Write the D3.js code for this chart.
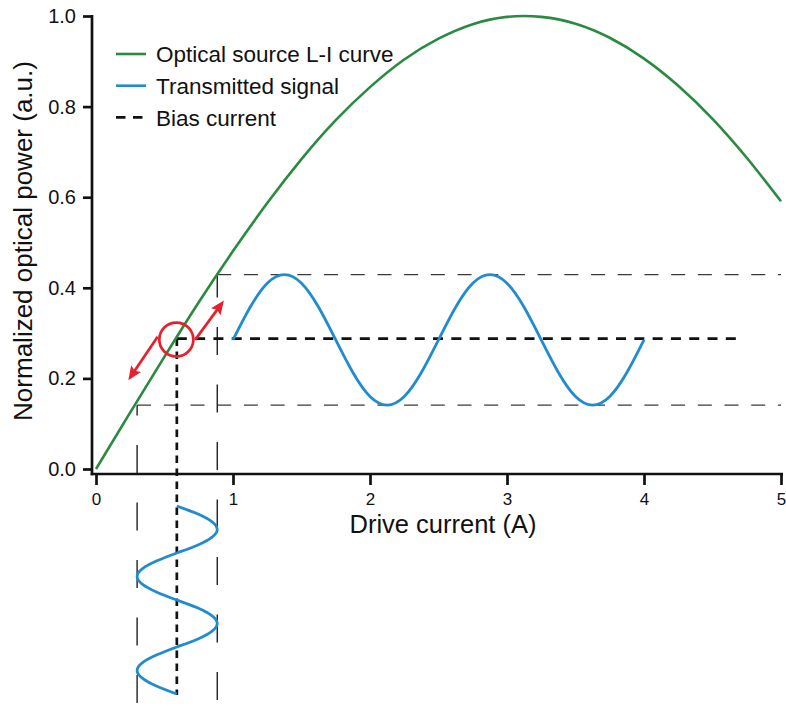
<!DOCTYPE html>
<html>
<head>
<meta charset="utf-8">
<script src="https://cdn.jsdelivr.net/npm/d3@7"></script>
<style>
  html, body { margin: 0; padding: 0; background: #fff; }
  svg { display: block; }
  text { font-family: "Liberation Sans", Arial, Helvetica, sans-serif; fill: #111; }
</style>
</head>
<body>
<svg id="chart" width="786" height="707"></svg>
<script>
// ---- data -------------------------------------------------------------
// Optical source L-I curve: drive current (A) vs normalized optical power
const liCurrent = [0, 0.25, 0.5, 0.75, 1.0, 1.25, 1.5, 1.75, 2.0, 2.25, 2.5,
                   2.75, 3.0, 3.25, 3.5, 3.75, 4.0, 4.25, 4.5, 4.75, 5.0];
const liPower   = [0, 0.125, 0.248, 0.368, 0.481, 0.587, 0.684, 0.770, 0.843, 0.904, 0.950,
                   0.982, 0.998, 0.998, 0.983, 0.952, 0.906, 0.846, 0.773, 0.687, 0.591];

// Transmitted signal, sampled on a time axis drawn along the current axis
const signalTime = [1.000, 1.125, 1.250, 1.375, 1.500, 1.625, 1.750, 1.875, 2.000,
                    2.125, 2.250, 2.375, 2.500, 2.625, 2.750, 2.875, 3.000, 3.125,
                    3.250, 3.375, 3.500, 3.625, 3.750, 3.875, 4.000];
// optical output (right-hand trace)
const signalPower = [0.285, 0.357, 0.410, 0.429, 0.410, 0.357, 0.285, 0.213, 0.160,
                     0.141, 0.160, 0.213, 0.285, 0.357, 0.410, 0.429, 0.410, 0.357,
                     0.285, 0.213, 0.160, 0.141, 0.160, 0.213, 0.285];
// drive current modulation (trace below the current axis)
const signalCurrent = [0.59, 0.74, 0.845, 0.885, 0.845, 0.74, 0.59, 0.445, 0.34,
                       0.30, 0.34, 0.445, 0.59, 0.74, 0.845, 0.885, 0.845, 0.74,
                       0.59, 0.445, 0.34, 0.30, 0.34, 0.445, 0.59];

// Operating point and swing limits
const biasCurrent = 0.59;
const biasPower = 0.288;
const biasLineEnd = 4.71;
const swingCurrent = [0.30, 0.885];   // low, high
const swingPower = [0.141, 0.429];    // low, high
const guideLineEnd = 5;

// Arrows along the slope at the operating point: [from, to] in (A, a.u.)
const arrowFrom = [[0.450, 0.292], [0.723, 0.285]];
const arrowTo   = [[0.236, 0.196], [0.934, 0.372]];

// Axes
const xTicks = [0, 1, 2, 3, 4, 5];
const yTicks = [0, 0.2, 0.4, 0.6, 0.8, 1.0];
const xTitle = "Drive current (A)";
const yTitle = "Normalized optical power (a.u.)";
const legendLabels = ["Optical source L-I curve", "Transmitted signal", "Bias current"];

// ---- layout -----------------------------------------------------------
const GREEN = "#2a8a3f";
const BLUE  = "#218bd0";
const RED   = "#e8202e";
const AXIS_W = 2.7;

const svg = d3.select("#chart");
const x = d3.scaleLinear().domain([0, 5]).range([96, 781]);
const y = d3.scaleLinear().domain([0, 1]).range([469, 16]);
const yAxisX = 92;
const xAxisY = 474;
// time scale for the current-modulation trace drawn under the axis
const tScale = d3.scaleLinear().domain([1, 4]).range([506, 694]);
const guideBottom = 703;

// ---- guide lines ------------------------------------------------------
const guides = svg.append("g").attr("fill", "none");

// horizontal swing limits
guides.append("line")
  .attr("x1", x(swingCurrent[1])).attr("x2", x(guideLineEnd))
  .attr("y1", y(swingPower[1])).attr("y2", y(swingPower[1]))
  .attr("stroke", "#3a3a3a").attr("stroke-width", 1.3).attr("stroke-dasharray", "14,12.7");
guides.append("line")
  .attr("x1", x(swingCurrent[0])).attr("x2", x(guideLineEnd))
  .attr("y1", y(swingPower[0])).attr("y2", y(swingPower[0]))
  .attr("stroke", "#3a3a3a").attr("stroke-width", 1.3).attr("stroke-dasharray", "14,12.7");

// vertical swing limits, extended below the axis
guides.append("line")
  .attr("x1", x(swingCurrent[0])).attr("x2", x(swingCurrent[0]))
  .attr("y1", guideBottom).attr("y2", y(swingPower[0]))
  .attr("stroke", "#111").attr("stroke-width", 1.3).attr("stroke-dasharray", "28,29.5");
guides.append("line")
  .attr("x1", x(swingCurrent[1])).attr("x2", x(swingCurrent[1]))
  .attr("y1", guideBottom - 3).attr("y2", y(swingPower[1]))
  .attr("stroke", "#111").attr("stroke-width", 1.3).attr("stroke-dasharray", "28,29.5");

// bias current
guides.append("line")
  .attr("x1", x(biasCurrent)).attr("x2", x(biasLineEnd))
  .attr("y1", y(biasPower)).attr("y2", y(biasPower))
  .attr("stroke", "#111").attr("stroke-width", 2.7).attr("stroke-dasharray", "10,8.3");
guides.append("line")
  .attr("x1", x(biasCurrent)).attr("x2", x(biasCurrent))
  .attr("y1", y(biasPower)).attr("y2", guideBottom - 8)
  .attr("stroke", "#111").attr("stroke-width", 2.7).attr("stroke-dasharray", "7.5,5.5");

// ---- axes -------------------------------------------------------------
const yAxis = svg.append("g")
  .attr("transform", `translate(${yAxisX},0)`)
  .call(d3.axisLeft(y).tickValues(yTicks).tickFormat(d3.format(".1f"))
        .tickSize(9).tickPadding(7));
yAxis.select(".domain").remove();
yAxis.selectAll(".tick line").attr("stroke", "#111").attr("stroke-width", AXIS_W);
yAxis.selectAll(".tick text").attr("font-size", 20).attr("fill", "#111")
  .attr("font-family", "'Liberation Sans', Arial, sans-serif");

const xAxis = svg.append("g")
  .attr("transform", `translate(0,${xAxisY})`)
  .call(d3.axisBottom(x).tickValues(xTicks).tickFormat(d3.format("d"))
        .tickSize(11).tickPadding(8));
xAxis.select(".domain").remove();
xAxis.selectAll(".tick line").attr("stroke", "#111").attr("stroke-width", AXIS_W);
xAxis.selectAll(".tick text").attr("font-size", 17).attr("fill", "#111")
  .attr("font-family", "'Liberation Sans', Arial, sans-serif");

// axis lines meeting at the lower-left corner
svg.append("line")
  .attr("x1", yAxisX).attr("x2", yAxisX)
  .attr("y1", y(1) - 1).attr("y2", xAxisY + AXIS_W / 2)
  .attr("stroke", "#111").attr("stroke-width", AXIS_W);
svg.append("line")
  .attr("x1", yAxisX - AXIS_W / 2).attr("x2", x(5) + 2)
  .attr("y1", xAxisY).attr("y2", xAxisY)
  .attr("stroke", "#111").attr("stroke-width", AXIS_W);

// axis titles
svg.append("text")
  .attr("x", 443).attr("y", 532.5)
  .attr("text-anchor", "middle").attr("font-size", 25.5)
  .text(xTitle);
svg.append("text")
  .attr("transform", "translate(32,241) rotate(-90)")
  .attr("text-anchor", "middle").attr("font-size", 26)
  .text(yTitle);

// ---- curves -----------------------------------------------------------
const liData = liCurrent.map((c, i) => ({ c, p: liPower[i] }));
svg.append("path")
  .datum(liData)
  .attr("fill", "none").attr("stroke", GREEN).attr("stroke-width", 2.6)
  .attr("d", d3.line().x(d => x(d.c)).y(d => y(d.p)).curve(d3.curveNatural));

const sigData = signalTime.map((t, i) => ({ t, p: signalPower[i], c: signalCurrent[i] }));
svg.append("path")
  .datum(sigData)
  .attr("fill", "none").attr("stroke", BLUE).attr("stroke-width", 2.8)
  .attr("d", d3.line().x(d => x(d.t)).y(d => y(d.p)).curve(d3.curveNatural));
svg.append("path")
  .datum(sigData)
  .attr("fill", "none").attr("stroke", BLUE).attr("stroke-width", 2.8)
  .attr("d", d3.line().x(d => x(d.c)).y(d => tScale(d.t)).curve(d3.curveNatural));

// ---- operating point marker and arrows --------------------------------
const defs = svg.append("defs");
defs.append("marker")
  .attr("id", "arrowhead")
  .attr("viewBox", "0 0 14 12")
  .attr("refX", 3).attr("refY", 6)
  .attr("markerUnits", "userSpaceOnUse")
  .attr("markerWidth", 14).attr("markerHeight", 12)
  .attr("orient", "auto")
  .append("path")
  .attr("d", "M0,0 L14,6 L0,12 L2.5,6 Z")
  .attr("fill", RED);

svg.append("circle")
  .attr("cx", x(biasCurrent) - 0.5).attr("cy", y(biasPower) + 1)
  .attr("r", 17)
  .attr("fill", "none").attr("stroke", RED).attr("stroke-width", 2.7);

arrowFrom.forEach((from, i) => {
  const x1 = x(from[0]), y1 = y(from[1]);
  const x2 = x(arrowTo[i][0]), y2 = y(arrowTo[i][1]);
  const len = Math.hypot(x2 - x1, y2 - y1);
  const back = 11;  // stop the shaft where the arrowhead begins
  svg.append("line")
    .attr("x1", x1).attr("y1", y1)
    .attr("x2", x2 - (x2 - x1) / len * back).attr("y2", y2 - (y2 - y1) / len * back)
    .attr("stroke", RED).attr("stroke-width", 2.7)
    .attr("marker-end", "url(#arrowhead)");
});

// ---- legend -----------------------------------------------------------
const legend = svg.append("g");
const legendStyles = [
  { stroke: GREEN, width: 2.6, dash: null },
  { stroke: BLUE, width: 2.6, dash: null },
  { stroke: "#111", width: 2.7, dash: "9.5,7.5" }
];
legendLabels.forEach((label, i) => {
  const ly = 54 + i * 31.7;
  legend.append("line")
    .attr("x1", 116).attr("x2", 146).attr("y1", ly).attr("y2", ly)
    .attr("stroke", legendStyles[i].stroke).attr("stroke-width", legendStyles[i].width)
    .attr("stroke-dasharray", legendStyles[i].dash);
  legend.append("text")
    .attr("x", 156).attr("y", ly).attr("dy", "0.36em")
    .attr("font-size", 22.5)
    .text(label);
});
</script>
</body>
</html>
